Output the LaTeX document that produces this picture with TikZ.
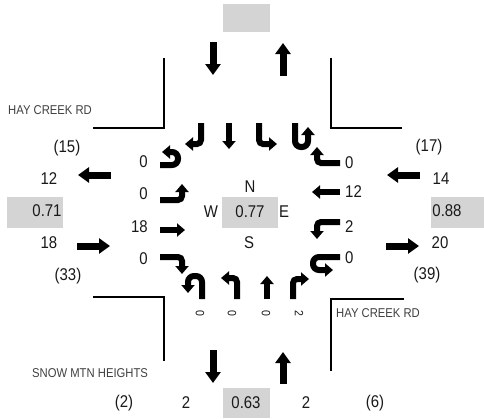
\documentclass[tikz,border=0pt]{standalone}
\usepackage{fontspec}
\setmainfont[FakeStretch=0.88]{Liberation Sans}
\usepackage{tikz}
\usetikzlibrary{arrows.meta}
\definecolor{boxgray}{RGB}{212,212,212}
\definecolor{labelgray}{RGB}{64,64,64}
\tikzset{%
  flow arrow/.style={
    line width=7pt,
    -{Triangle[length=11pt,width=15pt]}
  },
  lane arrow/.style={
    line width=6pt,
    rounded corners=4pt,
    -{Triangle[length=8pt,width=13pt]}
  },
  road edge/.style={line width=1.2pt},
  count/.style={
    font=\fontsize{17}{19}\selectfont,
    text=black!90,
    inner sep=0pt
  },
  street/.style={
    font=\fontsize{12.8}{14}\selectfont,
    text=labelgray,
    inner sep=0pt,
    anchor=west
  },
  factor box/.style={fill=boxgray, draw=none, inner sep=0pt},
}

\begin{document}
\begin{tikzpicture}[x=1pt, y=-1pt]
\useasboundingbox (0,0) rectangle (484,418);

\node [factor box, minimum width=47pt, minimum height=28pt] (north-box) at (246.5,18) {};
\node [factor box, minimum width=56pt, minimum height=31pt] (west-box) at (35,212.5) {};
\node [factor box, minimum width=56pt, minimum height=31pt] (center-box) at (250,212.5) {};
\node [factor box, minimum width=53pt, minimum height=31pt] (east-box) at (457.5,212.5) {};
\node [factor box, minimum width=47pt, minimum height=30pt] (south-box) at (246.5,403) {};

\draw [road edge] (93,128) -- (164,128) -- (164,58);
\draw [road edge] (402,128) -- (331,128) -- (331,58);
\draw [road edge] (93,297) -- (164,297) -- (164,361);
\draw [road edge] (404,299) -- (331,299) -- (331,371);

\foreach \xa/\ya/\xb/\yb in {213/42/213/75, 283/76/283/43, 111/175/78/175, 77/246/110/246,
    420/175/387/175, 386/246/419/246, 213/350/213/383, 283/384/283/352}
  \draw [flow arrow] (\xa,\ya) -- (\xb,\yb);

\draw [lane arrow, rounded corners=6pt] (160,165) -- (178,165) -- (178,152) -- (162,152);
\draw [lane arrow] (160,200) -- (182,200) -- (182,184);
\draw [lane arrow] (160,230) -- (185,230);
\draw [lane arrow] (160,257) -- (182,257) -- (182,274);

\draw [lane arrow] (340,163) -- (317,163) -- (317,147);
\draw [lane arrow] (340,192) -- (312,192);
\draw [lane arrow] (340,222) -- (317,222) -- (317,239);
\draw [lane arrow, rounded corners=6pt] (340,257) -- (313,257) -- (313,270) -- (333,270);

\draw [lane arrow, rounded corners=6pt] (202,299) -- (202,276) -- (188,276) -- (188,293);
\draw [lane arrow] (237,299) -- (237,278) -- (221,278);
\draw [lane arrow] (267,299) -- (267,276);
\draw [lane arrow] (293,299) -- (293,279) -- (309,279);

\draw [lane arrow] (201,123) -- (201,144) -- (185,144);
\draw [lane arrow] (229,123) -- (229,149);
\draw [lane arrow] (259,123) -- (259,144) -- (277,144);
\draw [lane arrow, rounded corners=6pt] (295,123) -- (295,147) -- (308,147) -- (308,127);

\foreach \l/\y [count=\i] in {0/162,0/194,18/227,0/259}
  \node [count, anchor=east] (wlane-\i) at (148,\y) {\l};

\foreach \l/\y [count=\i] in {0/163,12/192,2/227,0/258}
  \node [count, anchor=west] (elane-\i) at (345,\y) {\l};

\foreach \l/\x [count=\i] in {0/200,0/232,0/266,2/299}
  \node [count, font=\fontsize{12}{14}\selectfont, rotate=-90] (slane-\i) at (\x,313) {\l};

\node [count] (compass-n) at (250,187) {N};
\node [count] (compass-w) at (211,212) {W};
\node [count] (compass-e) at (284,212) {E};
\node [count] (compass-s) at (249,243) {S};
\node [count] (center-phf) at (250,212) {0.77};

\node [count] (west-peak) at (67,148) {(15)};
\node [count] (west-out) at (49,179) {12};
\node [count] (west-phf) at (47,211) {0.71};
\node [count] (west-in) at (49,243) {18};
\node [count] (west-total) at (68,276) {(33)};

\node [count] (east-peak) at (429,147) {(17)};
\node [count] (east-in) at (441,179) {14};
\node [count] (east-phf) at (447,211) {0.88};
\node [count] (east-out) at (440,243) {20};
\node [count] (east-total) at (427,275) {(39)};

\node [count] (south-peak) at (124,403) {(2)};
\node [count] (south-out) at (186,403) {2};
\node [count] (south-phf) at (246,403) {0.63};
\node [count] (south-in) at (306,403) {2};
\node [count] (south-total) at (375,403) {(6)};

\node [street] (road-west) at (8,110.5) {HAY CREEK RD};
\node [street] (road-east) at (336,313) {HAY CREEK RD};
\node [street] (road-south) at (32,373) {SNOW MTN HEIGHTS};

\end{tikzpicture}
\end{document}
